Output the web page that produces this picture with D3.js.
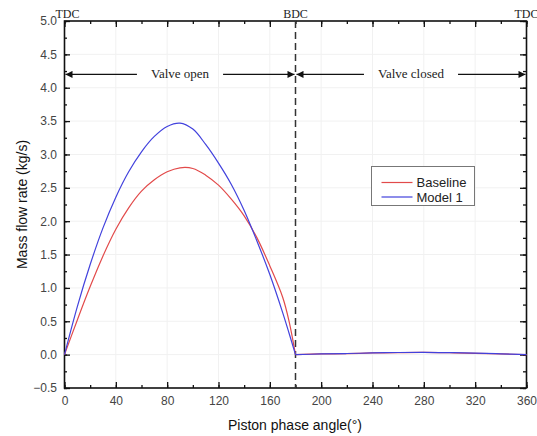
<!DOCTYPE html>
<html>
<head>
<meta charset="utf-8">
<script src="https://cdn.jsdelivr.net/npm/d3@7"></script>
<style>
  body { margin: 0; background: #fff; }
  svg { display: block; }
</style>
</head>
<body>
<div id="chart"></div>
<script>
// piston phase angle (deg)
const angles = [0, 10, 20, 30, 40, 50, 60, 70, 80, 90, 100, 110, 120, 130, 140, 150, 160, 170, 175, 180,
    200, 220, 240, 260, 280, 300, 320, 340, 360];
// mass flow rate (kg/s)
const baseline = [0, 0.52, 1.02, 1.48, 1.88, 2.2, 2.45, 2.62, 2.74, 2.8, 2.79, 2.69, 2.54, 2.33, 2.08, 1.75, 1.33, 0.86, 0.5, 0,
    0.01, 0.015, 0.025, 0.03, 0.033, 0.028, 0.02, 0.01, 0];
const model1 = [0, 0.72, 1.35, 1.9, 2.36, 2.74, 3.04, 3.27, 3.42, 3.47, 3.38, 3.15, 2.87, 2.55, 2.16, 1.7, 1.2, 0.63, 0.32, 0,
    0.01, 0.017, 0.025, 0.032, 0.035, 0.03, 0.022, 0.012, 0];

const seriesNames = ["Baseline", "Model 1"];
const seriesColors = ["#e24a4a", "#4242dd"];
const xTicks = [0, 40, 80, 120, 160, 200, 240, 280, 320, 360];
const yTicks = [-0.5, 0.0, 0.5, 1.0, 1.5, 2.0, 2.5, 3.0, 3.5, 4.0, 4.5, 5.0];
const markers = [{angle: 0, label: "TDC"}, {angle: 180, label: "BDC"}, {angle: 360, label: "TDC"}];
const regions = [{from: 0, to: 180, label: "Valve open"}, {from: 180, to: 360, label: "Valve closed"}];

const W = 537, H = 436;
const margin = {top: 21, left: 64, right: 11, bottom: 48};
const width = W - margin.left - margin.right;
const height = H - margin.top - margin.bottom;

const svg = d3.select("#chart").append("svg")
    .attr("width", W)
    .attr("height", H);

const g = svg.append("g")
    .attr("transform", "translate(" + margin.left + "," + margin.top + ")");

const x = d3.scaleLinear().domain([0, 360]).range([0.5, width + 0.5]);
const y = d3.scaleLinear().domain([-0.5, 5.0]).range([height, 0]);

// faint grid
g.append("g").selectAll("line")
    .data(xTicks.slice(1, -1))
    .enter().append("line")
    .attr("x1", d => x(d)).attr("x2", d => x(d))
    .attr("y1", 0).attr("y2", height)
    .style("stroke", "#f1f1f1");
g.append("g").selectAll("line")
    .data(yTicks.slice(1, -1))
    .enter().append("line")
    .attr("x1", 0).attr("x2", width)
    .attr("y1", d => y(d)).attr("y2", d => y(d))
    .style("stroke", "#f1f1f1");

// axes with inward ticks
const minorX = d3.range(0, 361, 20);
const minorY = d3.range(-0.5, 5.01, 0.25);

function tickStyle(sel) {
    sel.select(".domain").remove();
    sel.selectAll("line").style("stroke", "#111").style("stroke-width", 1.3);
    sel.selectAll("text")
        .style("font-family", "Liberation Sans, Arial, sans-serif")
        .style("font-size", "12px")
        .style("fill", "#444");
}

g.append("g").attr("transform", "translate(0," + height + ")")
    .call(d3.axisBottom(x).tickValues(minorX).tickSize(-3).tickFormat(""))
    .call(tickStyle);
g.append("g").attr("transform", "translate(0," + height + ")")
    .call(d3.axisBottom(x).tickValues(xTicks).tickSize(-6).tickPadding(8).tickFormat(d3.format("d")))
    .call(tickStyle);
g.append("g")
    .call(d3.axisTop(x).tickValues(minorX).tickSize(-3).tickFormat(""))
    .call(tickStyle);
g.append("g")
    .call(d3.axisTop(x).tickValues(xTicks).tickSize(-6).tickFormat(""))
    .call(tickStyle);

g.append("g")
    .call(d3.axisLeft(y).tickValues(minorY).tickSize(-3).tickFormat(""))
    .call(tickStyle);
g.append("g")
    .call(d3.axisLeft(y).tickValues(yTicks).tickSize(-6).tickPadding(7).tickFormat(d3.format(".1f")))
    .call(tickStyle);
g.append("g").attr("transform", "translate(" + width + ",0)")
    .call(d3.axisRight(y).tickValues(minorY).tickSize(-3).tickFormat(""))
    .call(tickStyle);
g.append("g").attr("transform", "translate(" + width + ",0)")
    .call(d3.axisRight(y).tickValues(yTicks).tickSize(-6).tickFormat(""))
    .call(tickStyle);

// frame
g.append("rect")
    .attr("x", 0.5).attr("y", 0)
    .attr("width", width).attr("height", height)
    .style("fill", "none")
    .style("stroke", "#111")
    .style("stroke-width", 1.6);

// BDC dashed line
g.append("line")
    .attr("x1", x(180)).attr("x2", x(180))
    .attr("y1", 0).attr("y2", height)
    .style("stroke", "#333")
    .style("stroke-width", 1.5)
    .style("stroke-dasharray", "7 4");

// curves: open phase and closed phase drawn separately so the corner at BDC stays sharp
const line = d3.line()
    .x(d => x(d[0]))
    .y(d => y(d[1]))
    .curve(d3.curveCatmullRom.alpha(0.5));

[baseline, model1].forEach(function(vals, i) {
    const pts = angles.map((a, j) => [a, vals[j]]);
    const open = pts.filter(p => p[0] <= 180);
    const closed = pts.filter(p => p[0] >= 180);
    [open, closed].forEach(function(part) {
        g.append("path")
            .datum(part)
            .attr("d", line)
            .style("fill", "none")
            .style("stroke", seriesColors[i])
            .style("stroke-width", 1.2);
    });
});

// markers TDC/BDC
g.selectAll("text.marker")
    .data(markers)
    .enter().append("text")
    .attr("class", "marker")
    .attr("x", d => x(d.angle) + (d.angle === 0 ? 3 : 0))
    .attr("y", -3)
    .attr("text-anchor", "middle")
    .style("font-family", "Liberation Serif, Times New Roman, serif")
    .style("font-size", "12px")
    .style("fill", "#222")
    .text(d => d.label);

// region arrows
const defs = svg.append("defs");
defs.append("marker")
    .attr("id", "arrow")
    .attr("viewBox", "0 0 10 10")
    .attr("refX", 10).attr("refY", 5)
    .attr("markerWidth", 10).attr("markerHeight", 7)
    .attr("markerUnits", "userSpaceOnUse")
    .attr("orient", "auto-start-reverse")
    .append("path")
    .attr("d", "M0,0 L10,5 L0,10 Z")
    .style("fill", "#111");

const arrowY = y(4.2);
regions.forEach(function(r) {
    const cx = (x(r.from) + x(r.to)) / 2;
    const t = g.append("text")
        .attr("x", cx)
        .attr("y", arrowY + 4)
        .attr("text-anchor", "middle")
        .style("font-family", "Liberation Serif, Times New Roman, serif")
        .style("font-size", "13px")
        .style("fill", "#222")
        .text(r.label);
    const tw = t.node().getComputedTextLength();
    g.append("line")
        .attr("x1", cx - tw / 2 - 14).attr("x2", x(r.from) + 1)
        .attr("y1", arrowY).attr("y2", arrowY)
        .attr("marker-end", "url(#arrow)")
        .style("stroke", "#111").style("stroke-width", 1.4);
    g.append("line")
        .attr("x1", cx + tw / 2 + 14).attr("x2", x(r.to) - 1)
        .attr("y1", arrowY).attr("y2", arrowY)
        .attr("marker-end", "url(#arrow)")
        .style("stroke", "#111").style("stroke-width", 1.4);
});

// legend
const legend = g.append("g")
    .attr("transform", "translate(" + (371.5 - margin.left) + "," + (166.5 - margin.top) + ")");
legend.append("rect")
    .attr("width", 103).attr("height", 39)
    .style("fill", "#fff")
    .style("stroke", "#777")
    .style("stroke-width", 1);
seriesNames.forEach(function(name, i) {
    legend.append("line")
        .attr("x1", 10).attr("x2", 41)
        .attr("y1", 16 + i * 14.5).attr("y2", 16 + i * 14.5)
        .style("stroke", seriesColors[i])
        .style("stroke-width", 1.2);
    legend.append("text")
        .attr("x", 45).attr("y", 20.5 + i * 14.5)
        .style("font-family", "Liberation Sans, Arial, sans-serif")
        .style("font-size", "13px")
        .style("fill", "#222")
        .text(name);
});

// axis titles
svg.append("text")
    .attr("x", margin.left + width / 2)
    .attr("y", 430)
    .attr("text-anchor", "middle")
    .style("font-family", "Liberation Sans, Arial, sans-serif")
    .style("font-size", "14px")
    .style("fill", "#111")
    .text("Piston phase angle(°)");

svg.append("text")
    .attr("transform", "translate(27," + (margin.top + height / 2) + ") rotate(-90)")
    .attr("text-anchor", "middle")
    .style("font-family", "Liberation Sans, Arial, sans-serif")
    .style("font-size", "14px")
    .style("fill", "#111")
    .text("Mass flow rate (kg/s)");
</script>
</body>
</html>
